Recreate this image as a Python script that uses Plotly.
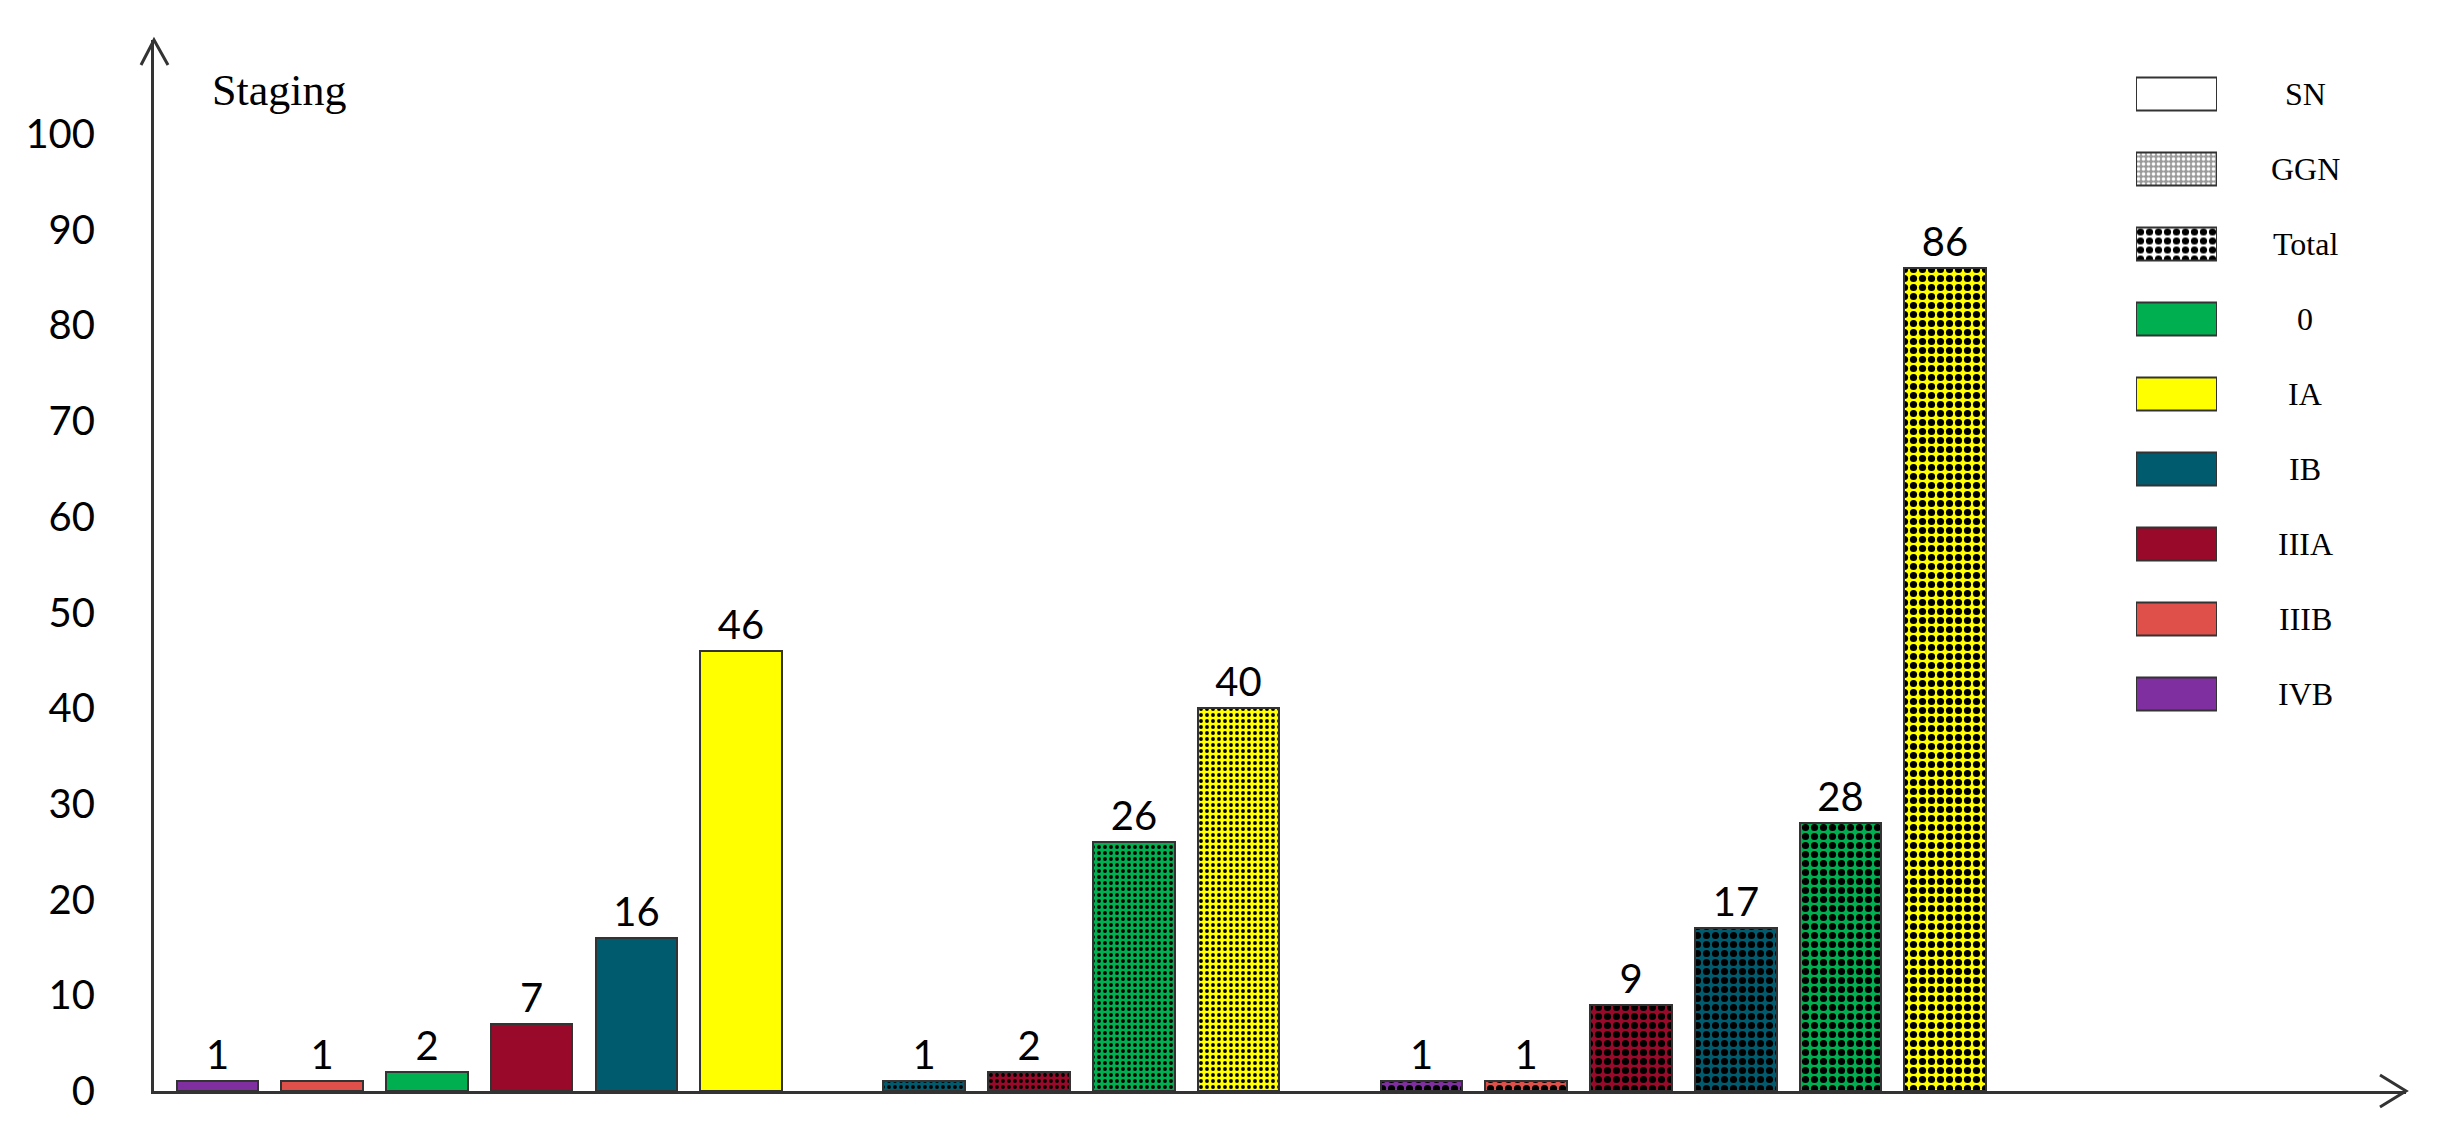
import plotly.graph_objects as go

# ---------------- data ----------------
groups = ["SN", "GGN", "Total"]
sn_stages = ["IVB", "IIIB", "0", "IIIA", "IB", "IA"]
sn_values = [1, 1, 2, 7, 16, 46]
ggn_stages = ["IB", "IIIA", "0", "IA"]
ggn_values = [1, 2, 26, 40]
total_stages = ["IVB", "IIIB", "IIIA", "IB", "0", "IA"]
total_values = [1, 1, 9, 17, 28, 86]

stage_names = ["0", "IA", "IB", "IIIA", "IIIB", "IVB"]
stage_colors = ["#00B050", "#FFFF00", "#005B6E", "#990A2A", "#E0504A", "#7F2FA0"]
y_ticks = [0, 10, 20, 30, 40, 50, 60, 70, 80, 90, 100]
legend_labels = ["SN", "GGN", "Total"] + stage_names

color_of = dict(zip(stage_names, stage_colors))

# ---------------- geometry (pixels of the 2453x1122 page) ----------------
W, H = 2453, 1122
L, R, T, B = 146, 2398, 32, 1083
PW, PH = R - L, B - T


def px(x):
    return (x - L) / PW


def py(y):
    return (B - y) / PH


GROUP_GAP = 0.75
series = [(sn_stages, sn_values), (ggn_stages, ggn_values), (total_stages, total_values)]
pattern_styles = [
    None,
    dict(shape=".", size=6, solidity=0.32),
    dict(shape=".", size=9, solidity=0.5),
]
OUTLINE = dict(color="#333333", width=2)

fig = go.Figure()
start = 0.0
for gname, (stg, vals), ps in zip(groups, series, pattern_styles):
    xs = [start + i for i in range(len(vals))]
    start = xs[-1] + 1 + GROUP_GAP
    for xv, s, v in zip(xs, stg, vals):
        marker = dict(color=color_of[s], line=OUTLINE)
        if ps is not None:
            marker["pattern"] = dict(shape=ps["shape"], size=ps["size"], solidity=ps["solidity"],
                                     fillmode="overlay", fgcolor="black", fgopacity=1)
        fig.add_trace(go.Bar(
            x=[xv], y=[v], name=f"{gname} {s}", width=0.78, marker=marker,
            text=[v], texttemplate="%{text}", textposition="outside",
            textfont=dict(family="Lato, Liberation Sans, sans-serif", size=40, color="black"),
            cliponaxis=False, showlegend=False, hoverinfo="skip",
        ))

# ---------------- legend drawn as swatch bars on a second axis pair ----------------
n = len(legend_labels)
sw_colors = ["white", "#9a9a9a", "white"] + stage_colors
sw_patterns = [None, dict(shape=".", size=5, solidity=0.4, fgcolor="white"),
               dict(shape=".", size=9, solidity=0.5, fgcolor="black")] + [None] * len(stage_names)
for i, (lab, col, pat) in enumerate(zip(legend_labels, sw_colors, sw_patterns)):
    marker = dict(color=col, line=OUTLINE)
    if pat is not None:
        marker["pattern"] = dict(shape=pat["shape"], size=pat["size"], solidity=pat["solidity"],
                                 fgcolor=pat["fgcolor"], fgopacity=1, fillmode="overlay")
    fig.add_trace(go.Bar(
        x=[1], y=[i], orientation="h", width=0.45, xaxis="x2", yaxis="y2",
        marker=marker, showlegend=False, hoverinfo="skip", name=lab,
    ))

row0, row_step = 86, 75
for i, lab in enumerate(legend_labels):
    fig.add_annotation(x=px(2297), y=py(row0 + row_step * i), xref="paper", yref="paper",
                       text=lab, showarrow=False, xanchor="center", yanchor="middle",
                       font=dict(family="Liberation Serif, Times New Roman, serif",
                                 size=32, color="black"))

fig.add_annotation(x=px(202), y=py(82), xref="paper", yref="paper", text="Staging",
                   showarrow=False, xanchor="left", yanchor="middle",
                   font=dict(family="Liberation Serif, Times New Roman, serif",
                             size=44, color="black"))

# arrowheads
line_style = dict(color="#333333", width=3)
fig.add_shape(type="path", xref="paper", yref="paper",
              path=f"M {px(133)} {py(57)} L {px(146)} {py(32)} L {px(160)} {py(57)}",
              line=line_style)
fig.add_shape(type="path", xref="paper", yref="paper",
              path=f"M {px(2372)} {py(1067)} L {px(2398)} {py(1083)} L {px(2372)} {py(1099)}",
              line=line_style)

x_left = -0.607
x_right = x_left + PW / 104.7
y_top = PH / 9.57

fig.update_layout(
    width=W, height=H,
    margin=dict(l=L, r=W - R, t=T, b=H - B),
    paper_bgcolor="white", plot_bgcolor="white",
    bargap=0, barmode="overlay",
    xaxis=dict(range=[x_left, x_right], showgrid=False, zeroline=False,
               showticklabels=False, ticks="", showline=True,
               linecolor="#333333", linewidth=3),
    yaxis=dict(range=[0, y_top], tickvals=y_ticks, showgrid=False, zeroline=False,
               ticks="", showline=True, linecolor="#333333", linewidth=3,
               ticklabelstandoff=48,
               tickfont=dict(family="Lato, Liberation Sans, sans-serif", size=40, color="black")),
    xaxis2=dict(domain=[px(2128), px(2209)], range=[0, 1], anchor="y2",
                visible=False, fixedrange=True),
    yaxis2=dict(domain=[py(row0 + row_step * (n - 0.5)), py(row0 - row_step * 0.5)],
                range=[n - 0.5, -0.5], anchor="x2", visible=False, fixedrange=True),
    showlegend=False,
)

fig.write_html("out.html")
